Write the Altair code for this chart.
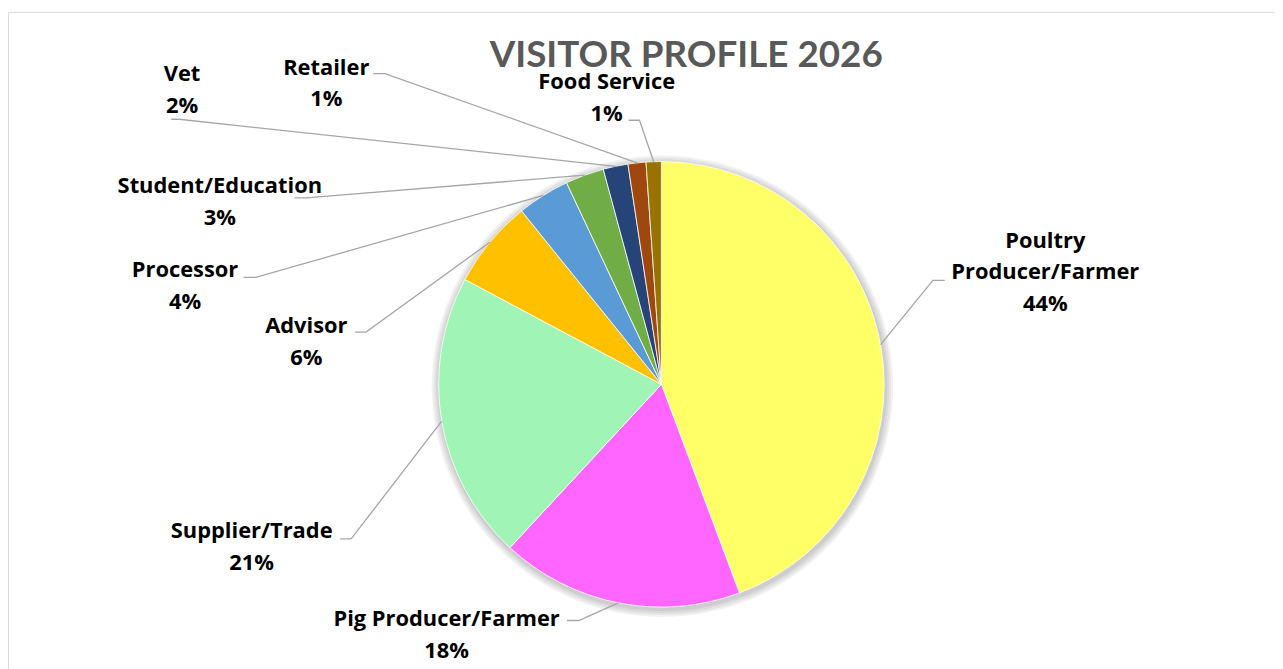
import math
import altair as alt
import pandas as pd

# ---------------- data ----------------
categories = ["Poultry Producer/Farmer", "Pig Producer/Farmer", "Supplier/Trade",
              "Advisor", "Processor", "Student/Education", "Vet", "Retailer",
              "Food Service"]
shares = [44.3, 17.6, 20.9, 6.4, 3.8, 2.8, 1.8, 1.3, 1.1]
colors = ["#FFFF66", "#FF66FF", "#A0F5B6", "#FFC000", "#5B9BD5", "#70AD47",
          "#264478", "#9E480E", "#997300"]
title_text = "VISITOR PROFILE 2026"

# ---------------- layout (chart pixel space) ----------------
W, H = 1274, 680
CX, CY, R = 657, 374.5, 224
label_x = [1043, 441, 245, 300, 178, 213, 175, 320, 602]
label_y = [237, 618, 529, 323, 267, 182, 70, 63, 78]      # first-line baseline
label_wrap = {"Poultry Producer/Farmer": "Poultry\nProducer/Farmer"}
stub_x0 = [942, 562, 334, 349, 237, 288, 164, 367, 624]
stub_x1 = [930, 574, 345, 360, 249, 300, 172, 379, 635]
stub_y = [270, 612, 530, 322, 267, 187, 108, 62, 109]

total = sum(shares)
pie_df = pd.DataFrame({"category": categories, "share": shares,
                       "idx": list(range(len(categories)))})

labels = []
lines = []
cum = 0.0
for i, (c, v) in enumerate(zip(categories, shares)):
    name = label_wrap.get(c, c)
    labels.append({"category": c, "x": label_x[i], "y": label_y[i],
                   "label": f"{name}\n{round(v)}%"})
    th = 2 * math.pi * (cum + v / 2) / total
    px = CX + R * math.sin(th)
    py = CY - R * math.cos(th)
    cum += v
    lines += [
        {"category": c, "o": 0, "x": stub_x0[i], "y": stub_y[i]},
        {"category": c, "o": 1, "x": stub_x1[i], "y": stub_y[i]},
        {"category": c, "o": 2, "x": px, "y": py},
    ]
lab_df = pd.DataFrame(labels)
line_df = pd.DataFrame(lines)

xs = alt.Scale(domain=[0, W], nice=False, zero=False)
ys = alt.Scale(domain=[0, H], nice=False, zero=False, reverse=True)

shadow = alt.layer(*[
    alt.Chart(pd.DataFrame({"k": [0]})).mark_arc(
        radius=r, theta=0, theta2=2 * math.pi, color="#000000", opacity=0.05
    ).encode(x=alt.value(CX + 1), y=alt.value(CY + 2))
    for r in [226, 228, 230, 232]
])

pie = alt.Chart(pie_df).mark_arc(radius=R, stroke="white", strokeWidth=0.8).encode(
    theta=alt.Theta("share:Q", stack=True),
    color=alt.Color("category:N", scale=alt.Scale(domain=categories, range=colors),
                    legend=None),
    order=alt.Order("idx:Q"),
    x=alt.value(CX), y=alt.value(CY),
)

leaders = alt.Chart(line_df).mark_line(color="#A6A6A6", strokeWidth=1.3).encode(
    x=alt.X("x:Q", scale=xs, axis=None),
    y=alt.Y("y:Q", scale=ys, axis=None),
    detail="category:N",
    order="o:Q",
)

texts = alt.Chart(lab_df).mark_text(
    font="Open Sans", fontWeight="bold", fontSize=22, lineBreak="\n", lineHeight=32,
    align="center", baseline="alphabetic", color="#000000"
).encode(
    x=alt.X("x:Q", scale=xs, axis=None),
    y=alt.Y("y:Q", scale=ys, axis=None),
    text="label:N",
)

title = alt.Chart(pd.DataFrame({"t": [title_text]})).mark_text(
    font="Lato", fontWeight="bold", fontSize=37, color="#595959",
    align="center", baseline="alphabetic"
).encode(x=alt.value(682), y=alt.value(55), text="t:N")

chart = alt.layer(shadow, pie, leaders, texts, title).properties(
    width=W, height=H,
    autosize=alt.AutoSizeParams(type="none"),
    padding={"left": 0, "top": 2, "right": 0, "bottom": 0},
    background="white",
).configure_view(stroke="#D9D9D9", strokeWidth=1)

chart.save("out.html", embed_options={"renderer": "svg", "actions": False})
